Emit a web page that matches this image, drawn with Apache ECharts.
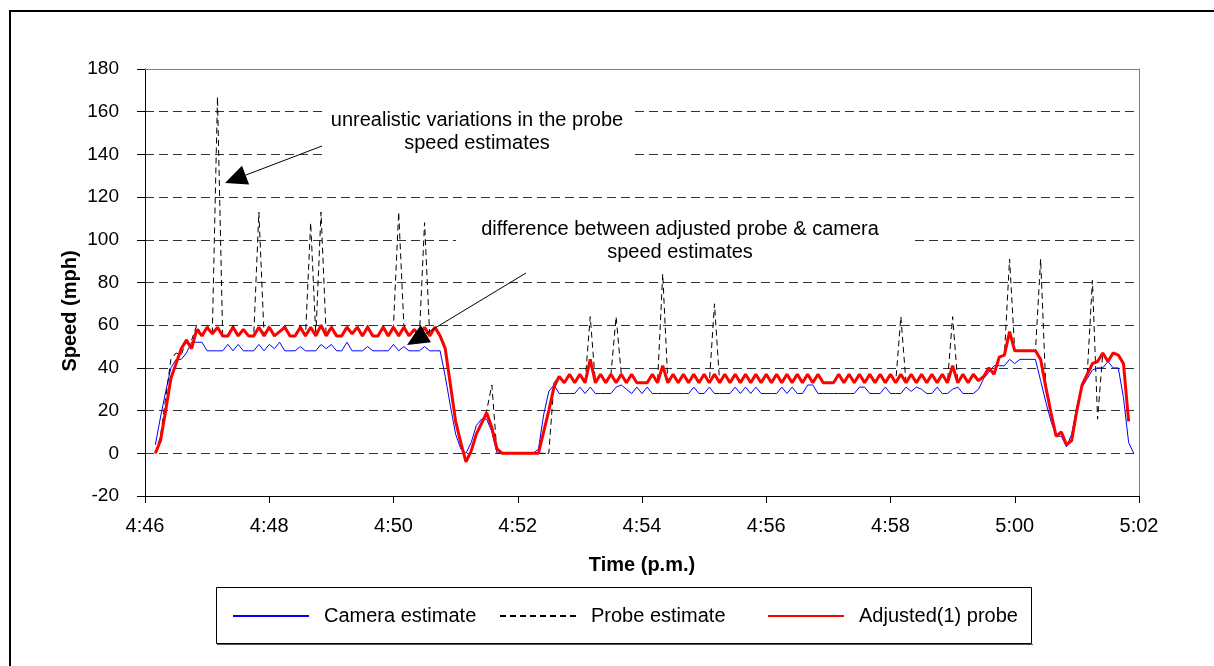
<!DOCTYPE html>
<html>
<head>
<meta charset="utf-8">
<title>Speed estimates</title>
<script src="https://cdn.jsdelivr.net/npm/echarts@6/dist/echarts.min.js"></script>
<style>
  html, body { margin: 0; padding: 0; background: #fff; }
  #chart { width: 1214px; height: 666px; }
</style>
</head>
<body>
<div id="chart"></div>
<script>
// one sample every 5 s, index 0 = 4:46:00
const stepSec = 5
const timeLabels = ['4:46', '4:48', '4:50', '4:52', '4:54', '4:56', '4:58', '5:00', '5:02']
const seriesNames = ['Camera estimate', 'Probe estimate', 'Adjusted(1) probe']

const camera = [
  null, null, 4, 17, 29, 40, 44, 44, 47, 52,
  52, 52, 48, 48, 48, 48, 51, 48, 51, 48,
  48, 48, 51, 48, 51, 49, 52, 48, 48, 48,
  50, 48, 48, 48, 51, 49, 51, 48, 48, 52,
  48, 48, 48, 50, 48, 48, 48, 48, 51, 48,
  50, 48, 48, 48, 50, 48, 48, 48, 36, 22,
  9, 2, 0, 5, 13, 16, 16, 10, 0, 0,
  0, 0, 0, 0, 0, 0, 2, 18, 29, 32,
  28, 28, 28, 28, 31, 28, 31, 28, 28, 28,
  28, 31, 32, 30, 28, 31, 28, 31, 28, 28,
  28, 28, 28, 28, 28, 28, 31, 28, 28, 31,
  28, 28, 28, 28, 31, 28, 31, 28, 31, 28,
  28, 28, 28, 31, 28, 31, 28, 28, 32, 32,
  28, 28, 28, 28, 28, 28, 28, 28, 31, 31,
  28, 28, 28, 31, 28, 28, 28, 31, 29, 31,
  30, 28, 28, 31, 28, 28, 30, 31, 28, 28,
  28, 30, 35, 38, 41, 41, 41, 44, 42, 44,
  44, 44, 44, 34, 24, 15, 8, 8, 3, 9,
  22, 31, 35, 39, 40, 40, 43, 40, 40, 26,
  5, 0, null
]

const probe = [
  null, null, 0, 8, 26, 44, 47, 46, 53, 53,
  60, 55, 60, 56, 167, 55, 55, 60, 55, 58,
  55, 55, 113, 55, 60, 55, 57, 60, 55, 55,
  60, 55, 108, 55, 113, 55, 60, 55, 55, 60,
  56, 60, 55, 60, 55, 55, 60, 55, 60, 113,
  60, 55, 58, 55, 108, 55, 60, 55, 49, 32,
  15, 5, -4, 1, 9, 14, 20, 32, 0, 0,
  0, 0, 0, 0, 0, 0, 0, 0, 0, 33,
  36, 33, 37, 33, 37, 33, 64, 33, 37, 33,
  37, 64, 37, 33, 37, 33, 33, 33, 37, 33,
  84, 33, 37, 33, 37, 33, 37, 33, 37, 33,
  70, 33, 37, 33, 37, 33, 37, 33, 37, 33,
  37, 33, 37, 33, 37, 33, 37, 33, 37, 33,
  37, 33, 33, 33, 37, 33, 37, 33, 37, 33,
  37, 33, 37, 33, 37, 33, 64, 33, 37, 33,
  37, 33, 37, 33, 37, 33, 64, 33, 37, 33,
  37, 34, 36, 40, 37, 45, 46, 91, 48, 48,
  48, 48, 48, 91, 31, 19, 8, 10, 4, 6,
  20, 32, 37, 81, 16, 47, 43, 47, 46, 42,
  15, null, null
]

const adjusted = [
  null, null, 0, 6, 20, 35, 42, 49, 53, 49,
  58, 55, 59, 56, 59, 55, 55, 59, 55, 58,
  55, 55, 59, 55, 59, 55, 57, 59, 55, 55,
  59, 55, 59, 55, 60, 55, 59, 55, 55, 59,
  56, 59, 55, 59, 55, 55, 59, 55, 59, 55,
  59, 55, 58, 55, 59, 55, 59, 55, 49, 32,
  15, 5, -4, 1, 9, 14, 19, 12, 2, 0,
  0, 0, 0, 0, 0, 0, 0, 10, 20, 31,
  36, 33, 37, 33, 37, 33, 44, 33, 37, 33,
  37, 33, 37, 33, 37, 33, 33, 33, 37, 33,
  41, 33, 37, 33, 37, 33, 37, 33, 37, 33,
  37, 33, 37, 33, 37, 33, 37, 33, 37, 33,
  37, 33, 37, 33, 37, 33, 37, 33, 37, 33,
  37, 33, 33, 33, 37, 33, 37, 33, 37, 33,
  37, 33, 37, 33, 37, 33, 37, 33, 37, 33,
  37, 33, 37, 33, 37, 33, 41, 33, 37, 33,
  37, 34, 36, 40, 37, 45, 46, 57, 48, 48,
  48, 48, 48, 44, 31, 19, 8, 10, 4, 6,
  20, 32, 37, 42, 43, 47, 43, 47, 46, 42,
  15, null, null
]

const FONT = '"Liberation Sans", Arial, sans-serif'
const toPairs = arr => arr.map((v, i) => [i * stepSec, v])

// arrow: straight line ending in a filled triangle at (tx, ty)
function arrow(fx, fy, tx, ty) {
  const len = Math.hypot(tx - fx, ty - fy)
  const ux = (fx - tx) / len, uy = (fy - ty) / len
  const hl = 22, hw = 10
  const bx = tx + ux * hl, by = ty + uy * hl
  return [
    { type: 'line', z: 120, shape: { x1: fx, y1: fy, x2: bx, y2: by }, style: { stroke: '#000', lineWidth: 1 } },
    { type: 'polygon', z: 120, shape: { points: [[tx, ty], [bx - uy * hw, by + ux * hw], [bx + uy * hw, by - ux * hw]] }, style: { fill: '#000' } }
  ]
}

function label(text, x, y, extra) {
  return Object.assign({
    type: 'text', x: x, y: y, z: 120,
    style: Object.assign({
      text: text, fill: '#000', fontSize: 20, fontFamily: FONT,
      align: 'center', verticalAlign: 'middle', textAlign: 'center', textVerticalAlign: 'middle'
    }, (extra && extra.style) || {})
  }, extra && extra.rotation ? { rotation: extra.rotation } : {})
}

const chart = echarts.init(document.getElementById('chart'))

const legendBase = {
  itemWidth: 76,
  itemHeight: 14,
  padding: 0,
  selectedMode: false,
  top: 606,
  itemStyle: { opacity: 0 },
  textStyle: { fontSize: 20, fontFamily: FONT, color: '#000', padding: [0, 0, 0, 10] }
}

const hiddenAxis = {
  axisTick: { show: false }, axisLabel: { show: false }, splitLine: { show: false }
}

const option = {
  animation: false,
  backgroundColor: '#fff',
  grid: { left: 145, right: 75, top: 69, bottom: 170, containLabel: false },
  legend: [
    Object.assign({ data: [seriesNames[0]], left: 232 }, legendBase),
    Object.assign({ data: [seriesNames[1]], left: 499 }, legendBase),
    Object.assign({ data: [seriesNames[2]], left: 767 }, legendBase)
  ],
  xAxis: [
    {
      type: 'value',
      min: 0,
      max: 960,
      interval: 120,
      axisLine: { onZero: false, lineStyle: { color: '#000', width: 1 } },
      axisTick: { show: true, inside: false, length: 7, lineStyle: { color: '#000' } },
      axisLabel: {
        color: '#000', fontSize: 20, fontFamily: FONT, margin: 20,
        formatter: v => timeLabels[Math.round(v / 120)]
      },
      splitLine: { show: false }
    },
    Object.assign({
      // plot area top border
      type: 'value', position: 'top', min: 0, max: 960,
      axisLine: { show: true, onZero: false, lineStyle: { color: '#808080' } }
    }, hiddenAxis)
  ],
  yAxis: [
    {
      type: 'value',
      min: -20,
      max: 180,
      interval: 20,
      axisLine: { show: true, onZero: false, lineStyle: { color: '#000', width: 1 } },
      axisTick: { show: true, inside: false, length: 8, lineStyle: { color: '#000' } },
      axisLabel: { color: '#000', fontSize: 19, fontFamily: FONT, margin: 26 },
      splitLine: { show: true, lineStyle: { color: '#333', width: 1, type: [9, 5] } }
    },
    Object.assign({
      // plot area right border
      type: 'value', position: 'right', min: -20, max: 180,
      axisLine: { show: true, onZero: false, lineStyle: { color: '#808080' } }
    }, hiddenAxis)
  ],
  series: [
    {
      name: seriesNames[0], type: 'line', data: toPairs(camera),
      symbol: 'none', showSymbol: false, z: 2,
      lineStyle: { color: '#0000ff', width: 1 }, itemStyle: { color: '#0000ff' }
    },
    {
      name: seriesNames[1], type: 'line', data: toPairs(probe),
      symbol: 'none', showSymbol: false, z: 3,
      lineStyle: { color: '#000', width: 1, type: [6, 4] }, itemStyle: { color: '#000' }
    },
    {
      name: seriesNames[2], type: 'line', data: toPairs(adjusted),
      symbol: 'none', showSymbol: false, z: 4,
      lineStyle: { color: '#ff0000', width: 3 }, itemStyle: { color: '#ff0000' }
    }
  ],
  graphic: [
    // outer frame
    { type: 'rect', z: 0, shape: { x: 10, y: 11, width: 1300, height: 800 }, style: { fill: 'none', stroke: '#000', lineWidth: 2 } },
    // legend frame
    { type: 'rect', z: 1, shape: { x: 216.5, y: 587.5, width: 815, height: 56 }, style: { fill: 'none', stroke: '#000', lineWidth: 1 } },
    { type: 'line', z: 1, shape: { x1: 217, y1: 644.5, x2: 1033, y2: 644.5 }, style: { stroke: '#555', lineWidth: 1 } },
    // annotation backgrounds
    { type: 'rect', z: 110, shape: { x: 322, y: 101, width: 310, height: 62 }, style: { fill: '#fff' } },
    { type: 'rect', z: 110, shape: { x: 456, y: 216, width: 456, height: 50 }, style: { fill: '#fff' } },
    label('unrealistic variations in the probe', 477, 120),
    label('speed estimates', 477, 143),
    label('difference between adjusted probe & camera', 680, 229),
    label('speed estimates', 680, 252),
    ...arrow(322, 146, 225, 183),
    ...arrow(526, 273, 407, 345),
    // axis titles
    label('Speed (mph)', 70, 311, { rotation: Math.PI / 2, style: { fontWeight: 'bold' } }),
    label('Time (p.m.)', 642, 565, { style: { fontWeight: 'bold' } })
  ]
}

chart.setOption(option)
window.addEventListener('resize', () => chart.resize())
</script>
</body>
</html>
